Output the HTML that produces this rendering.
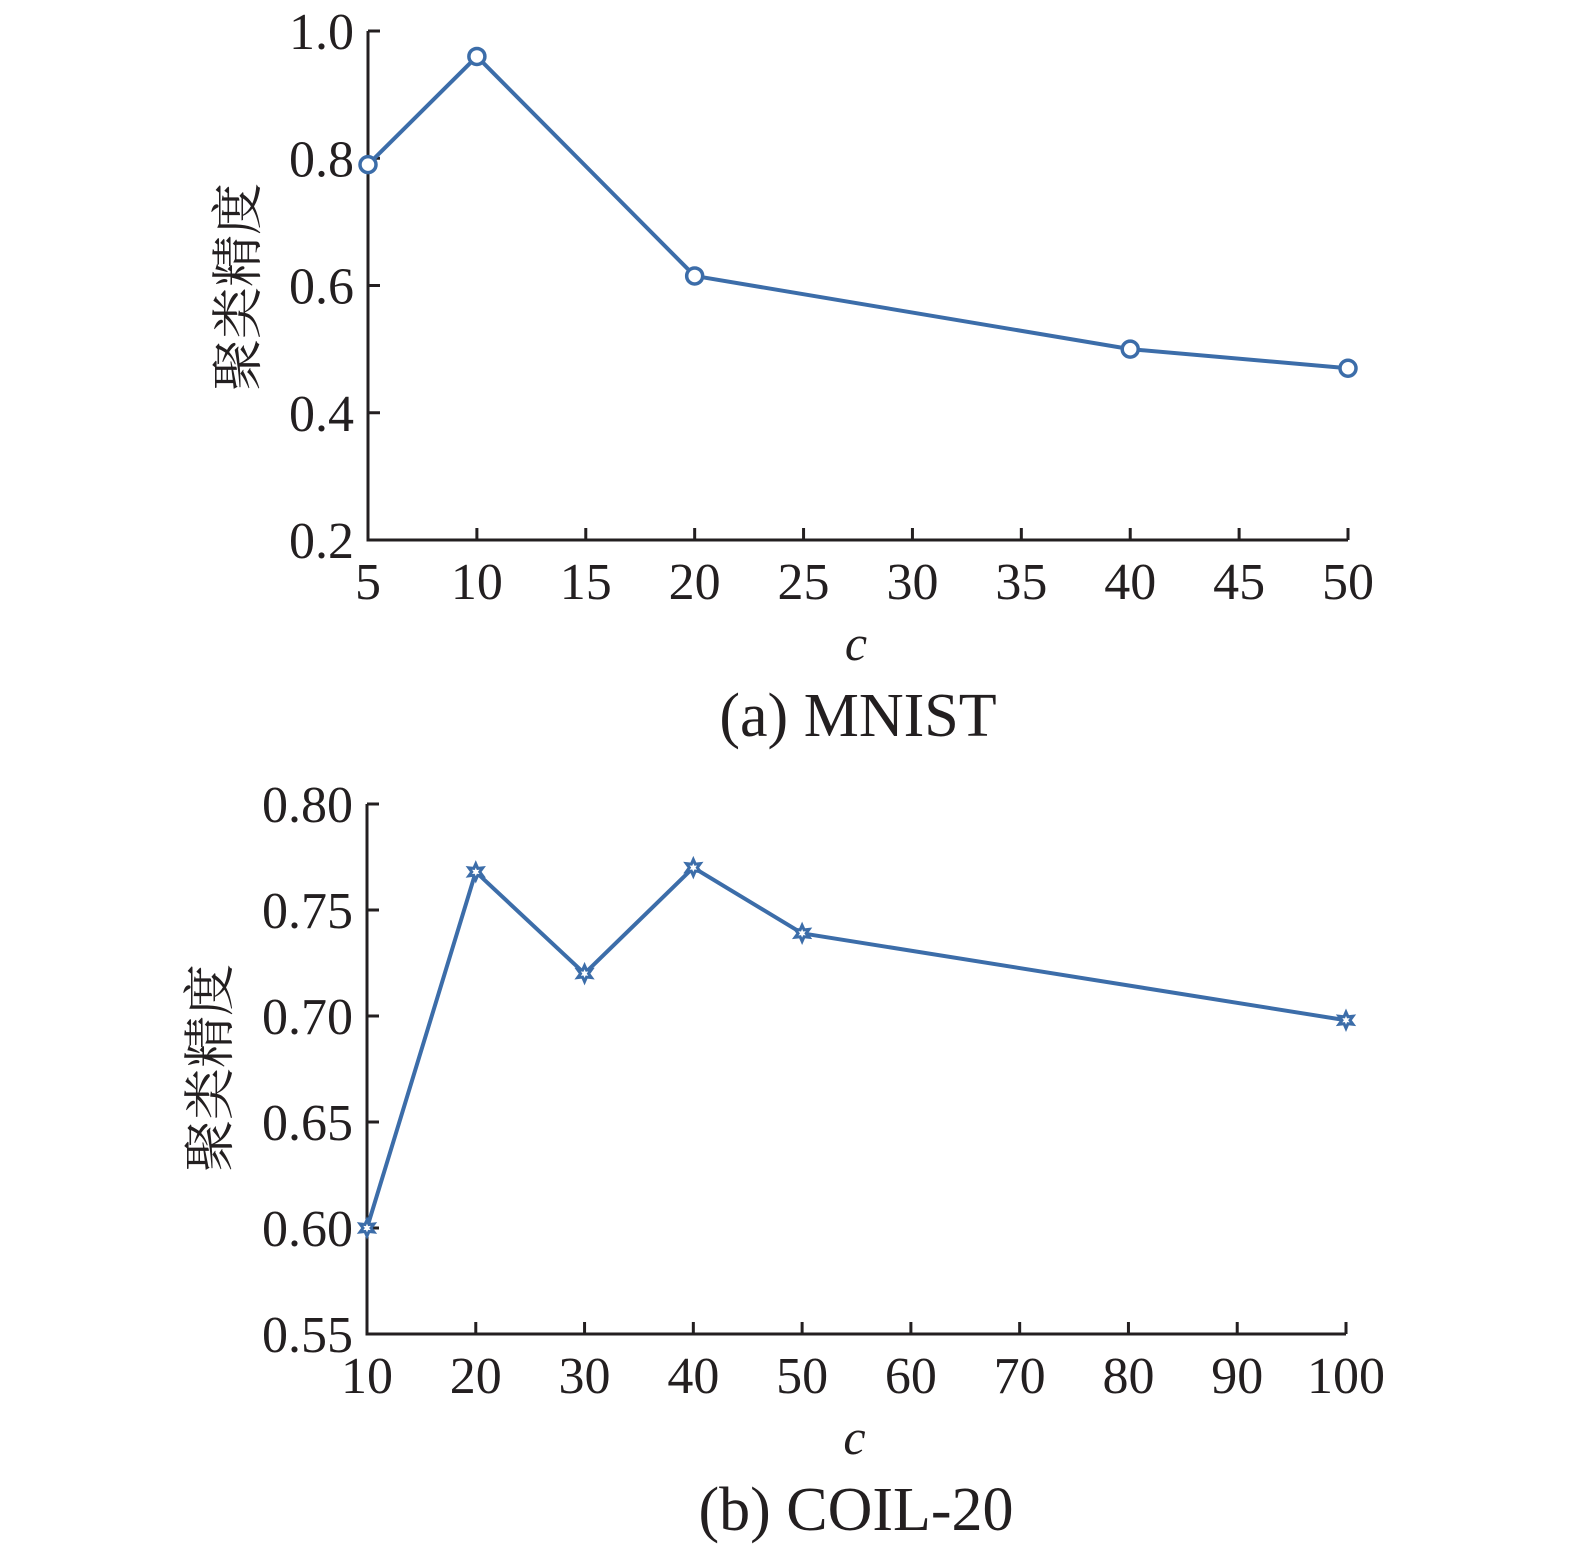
<!DOCTYPE html>
<html><head><meta charset="utf-8"><style>
html,body{margin:0;padding:0;background:#fff;}
svg text{font-family:"Liberation Serif","Noto Serif CJK SC",serif;fill:#231f20;}
</style></head><body>
<svg id="s" width="1575" height="1554" viewBox="0 0 1575 1554" xmlns="http://www.w3.org/2000/svg"></svg>
<script>
const aCats=[5,10,20,40,50];
const aVals=[0.79,0.96,0.615,0.50,0.47];
const aXTicks=[5,10,15,20,25,30,35,40,45,50];
const aYTicks=["0.2","0.4","0.6","0.8","1.0"];
const bCats=[10,20,30,40,50,100];
const bVals=[0.60,0.768,0.72,0.77,0.739,0.698];
const bXTicks=[10,20,30,40,50,60,70,80,90,100];
const bYTicks=["0.55","0.60","0.65","0.70","0.75","0.80"];
const NS="http://www.w3.org/2000/svg";
const svg=document.getElementById('s');
const COL="#3c6da9";
function mk(tag,attrs,parent){const e=document.createElementNS(NS,tag);for(const k in attrs)e.setAttribute(k,attrs[k]);(parent||svg).appendChild(e);return e;}
function chart(o){
  const g=mk('g',{});
  
  
  const sx=v=>o.x0+(v-o.xmin)/(o.xmax-o.xmin)*(o.x1-o.x0);
  const sy=v=>o.y0-(v-o.ymin)/(o.ymax-o.ymin)*(o.y0-o.y1);
  const ax=mk('path',{d:`M${o.x0},${o.y1}V${o.y0}H${o.x1}`,fill:'none',stroke:'#231f20','stroke-width':3},g);
  
  
  o.xt.forEach(t=>{const x=sx(t);
    mk('line',{x1:x,x2:x,y1:o.y0,y2:o.y0-12,stroke:'#231f20','stroke-width':3},g);
    const tx=mk('text',{x:x,y:o.y0+59,'font-size':52,'text-anchor':'middle'},g);tx.textContent=t;
    
    });
  o.yt.forEach(t=>{const y=sy(parseFloat(t));
    mk('line',{x1:o.x0,x2:o.x0+12,y1:y,y2:y,stroke:'#231f20','stroke-width':3},g);
    const tx=mk('text',{x:o.x0-14,y:y+18,'font-size':52,'text-anchor':'end'},g);tx.textContent=t;
    
    });
  const pts=o.cats.map((c,i)=>[sx(c),sy(o.vals[i])]);
  const ln=mk('polyline',{points:pts.map(p=>p.join(',')).join(' '),fill:'none',stroke:COL,'stroke-width':4,'stroke-linejoin':'round'},g);
  
  
  pts.forEach(p=>{let m;
    if(o.marker==='circle'){m=mk('circle',{cx:p[0],cy:p[1],r:8,fill:'#fff',stroke:COL,'stroke-width':3.5},g);}
    else{const r1=8,r2=4;let d='';for(let k=0;k<12;k++){const r=k%2?r2:r1;const a=-Math.PI/2+k*Math.PI/6;d+=(k?'L':'M')+(p[0]+r*Math.cos(a))+','+(p[1]+r*Math.sin(a));}
      m=mk('path',{d:d+'Z',fill:'#fff',stroke:COL,'stroke-width':3},g);}
    
    });
  const xl=mk('text',{x:(o.x0+o.x1)/2-2,y:o.y0+120,'font-size':50,'font-style':'italic','text-anchor':'middle'},g);xl.textContent='c';
  
  
  const yl=mk('text',{x:0,y:0,'font-size':52,'text-anchor':'middle',transform:`translate(${o.ylx},${o.ylc}) rotate(-90)`},g);yl.textContent='聚类精度';
  
  
  const tt=mk('text',{x:o.tx,y:o.y0+196,'font-size':62,'text-anchor':'middle'},g);tt.textContent=o.title;
  
  
}
chart({name:'chart-mnist',x0:368,x1:1348,y0:540,y1:31,xmin:5,xmax:50,ymin:0.2,ymax:1.0,xt:aXTicks,yt:aYTicks,cats:aCats,vals:aVals,marker:'circle',ylx:256,ylc:287,tx:858,title:'(a) MNIST'});
chart({name:'chart-coil20',x0:367,x1:1346,y0:1334,y1:804,xmin:10,xmax:100,ymin:0.55,ymax:0.80,xt:bXTicks,yt:bYTicks,cats:bCats,vals:bVals,marker:'star',ylx:228,ylc:1068,tx:856,title:'(b) COIL-20'});
</script>
</body></html>
